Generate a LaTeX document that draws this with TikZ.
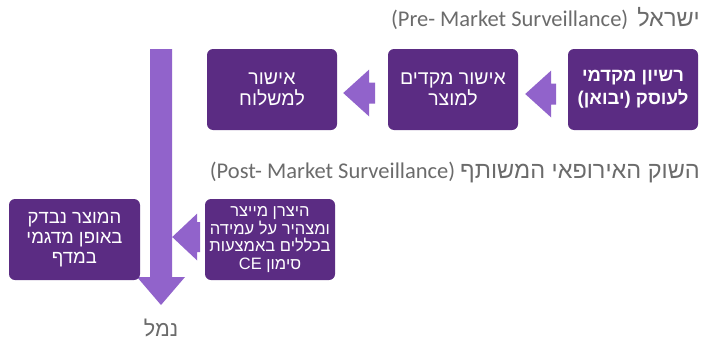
\documentclass[tikz,border=0pt]{standalone}
\usepackage{fontspec}
\setmainfont{Carlito}
\newfontfamily\hebfont[Script=Hebrew]{Liberation Sans}
\TeXXeTstate=1
\usetikzlibrary{calc,backgrounds}
\definecolor{boxpurple}{HTML}{5B2C83}
\definecolor{arrpurple}{HTML}{9163CB}
\definecolor{titlegray}{HTML}{6B6B6B}
\newcommand{\hebr}[1]{{\hebfont\beginR #1\endR}}
\newcommand{\bighebr}[1]{{\fontsize{23.5}{25}\selectfont\hebfont\beginR #1\endR}}
\begin{document}
\begin{tikzpicture}[x=1pt,y=-1pt,
  box/.style={fill=boxpurple, rounded corners=6pt, minimum width=130pt, minimum height=81pt, text=white, align=center, inner sep=0pt},
  arr/.style={fill=arrpurple},
  title/.style={text=titlegray, font=\fontsize{22.5}{24}\selectfont, anchor=east, inner sep=0pt}]
\useasboundingbox (0,0) rectangle (711,340);

\node[box, font=\bfseries\fontsize{18.5}{23}\selectfont] (lic) at (633,89.5) {\hebr{רשיון מקדמי}\\\hebr{לעוסק (יבואן)}};
\node[box, font=\fontsize{19.5}{20.5}\selectfont] (pre) at (453,89.5) {\hebr{אישור מקדים}\\\hebr{למוצר}};
\node[box, font=\fontsize{19.5}{20.5}\selectfont] (ship) at (272,89.5) {\hebr{אישור}\\\hebr{למשלוח}};
\node[box, minimum width=131pt, font=\fontsize{18.5}{20}\selectfont] (shelf) at (74.5,239.5) {\hebr{המוצר נבדק}\\\hebr{באופן מדגמי}\\\hebr{במדף}};
\node[box, font=\fontsize{16.5}{17.5}\selectfont] (maker) at (270,239.5) {\hebr{היצרן מייצר}\\\hebr{ומצהיר על עמידה}\\\hebr{בכללים באמצעות}\\\hebr{סימון \beginL CE\endL}};

\node[title] (t1) at (700,19) {(Pre- Market Surveillance)\hspace{9pt}\bighebr{ישראל}};
\node[title] (t2) at (700,172) {(Post- Market Surveillance)\hspace{5pt}\bighebr{השוק האירופאי המשותף}};

\node[text=titlegray, font=\fontsize{21.5}{23}\selectfont, inner sep=0pt] (port) at (161,328) {\hebr{נמל}};
\coordinate (vtop) at (161,49);

\begin{pgfonlayer}{background}
\fill[arr] ($(vtop)+(-11,0)$) -- ++(22,0) -- ++(0,228) -- ++(13,0) -- ($(vtop)+(0,256)$) -- ++(-24,-28) -- ++(13,0) -- cycle;
\fill[arr] ($(pre.east)+(7,4.5)$) -- ++(26,-23.5) -- ++(0,13) -- ++(5,0) -- ++(0,21) -- ++(-5,0) -- ++(0,13) -- cycle;
\fill[arr] ($(ship.east)+(6,3.5)$) -- ++(26,-23.5) -- ++(0,13) -- ++(6,0) -- ++(0,21) -- ++(-6,0) -- ++(0,13) -- cycle;
\fill[arr] ($(shelf.east)+(32,-2.5)$) -- ++(25,-23.5) -- ++(0,8.5) -- ++(3,0) -- ++(0,30) -- ++(-3,0) -- ++(0,8.5) -- cycle;
\end{pgfonlayer}
\end{tikzpicture}
\end{document}
